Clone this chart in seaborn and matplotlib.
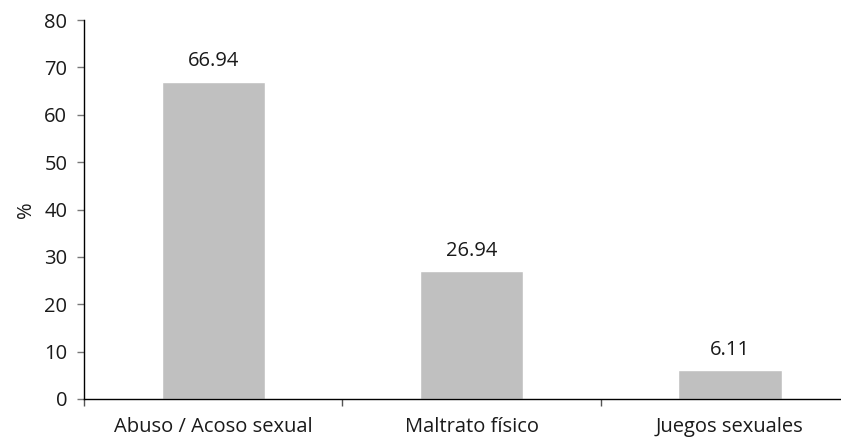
import matplotlib
matplotlib.use("Agg")
import matplotlib.pyplot as plt
import seaborn as sns
import pandas as pd

categories = ["Abuso / Acoso sexual", "Maltrato físico", "Juegos sexuales"]
values = [66.94, 26.94, 6.11]
y_ticks = [0, 10, 20, 30, 40, 50, 60, 70, 80]

sns.set_style("white")
plt.rcParams["font.family"] = ["Open Sans", "DejaVu Sans"]

FS = 14.5
TXT = "#1a1a1a"

df = pd.DataFrame({"categoria": categories, "porcentaje": values})

fig = plt.figure(figsize=(8.41, 4.42), dpi=100)
ax = fig.add_axes([84 / 841, 43 / 442, 1 - 84 / 841, 379 / 442])

sns.barplot(data=df, x="categoria", y="porcentaje", color="#c0c0c0",
            width=0.4, saturation=1, ax=ax)

ax.set_ylim(0, 80)
ax.set_xlim(-0.5, 2.43)
ax.set_yticks(y_ticks)
ax.set_yticklabels([str(t) for t in y_ticks], fontsize=FS, color=TXT)
ax.set_ylabel("%", fontsize=FS, color=TXT, labelpad=6)
ax.set_xlabel("")

# category labels without ticks; ticks at category boundaries
ax.set_xticks(range(len(categories)))
ax.set_xticklabels(categories, fontsize=FS, color=TXT)
ax.tick_params(axis="x", which="major", length=0, pad=13)
ax.set_xticks([-0.5, 0.5, 1.5], minor=True)
ax.tick_params(axis="x", which="minor", length=5, width=1, color="#555555",
               direction="out", bottom=True)
ax.tick_params(axis="y", length=5, width=1, color="#777777", direction="out",
               left=True, pad=7)

for s in ["top", "right"]:
    ax.spines[s].set_visible(False)
for s in ["left", "bottom"]:
    ax.spines[s].set_color("#000000")
    ax.spines[s].set_linewidth(1)

for i, v in enumerate(values):
    ax.text(i, v + 2.2, f"{v:.2f}", ha="center", va="bottom", fontsize=FS,
            color=TXT)

fig.savefig("out.png", dpi=100)
